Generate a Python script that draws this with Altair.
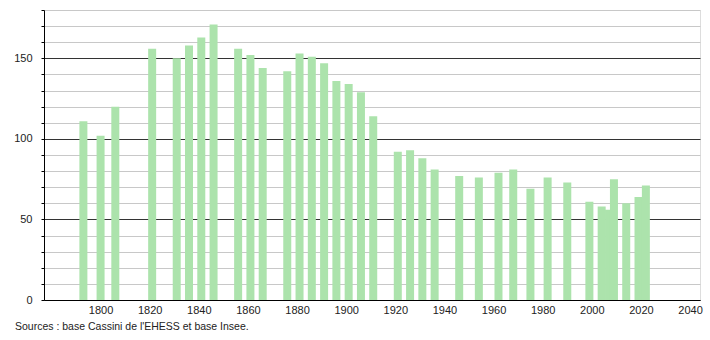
import altair as alt
import pandas as pd

years = [1793, 1800, 1806, 1821, 1831, 1836, 1841, 1846, 1856, 1861, 1866,
         1876, 1881, 1886, 1891, 1896, 1901, 1906, 1911, 1921, 1926, 1931,
         1936, 1946, 1954, 1962, 1968, 1975, 1982, 1990, 1999, 2004, 2007,
         2009, 2014, 2019, 2022]
population = [111, 102, 120, 156, 150, 158, 163, 171, 156, 152, 144,
              142, 153, 151, 147, 136, 134, 129, 114, 92, 93, 88,
              81, 77, 76, 79, 81, 69, 76, 73, 61, 58, 56,
              75, 60, 64, 71]
x_ticks = [1800, 1820, 1840, 1860, 1880, 1900, 1920, 1940, 1960, 1980, 2000, 2020, 2040]
y_ticks = list(range(0, 190, 10))
source_text = ["Sources : base Cassini de l'EHESS et base Insee."]

df = pd.DataFrame({"year": years, "pop": population})
src = pd.DataFrame({"t": source_text})

FONT = "Liberation Sans"

bars = alt.Chart(df).mark_bar(size=8, color="#ace3ac").encode(
    x=alt.X("year:Q",
            scale=alt.Scale(domain=[1779, 2042], nice=False, zero=False),
            axis=alt.Axis(values=x_ticks, format="d", title=None, grid=False,
                          ticks=False, labelPadding=4, labelFont=FONT,
                          labelFontSize=11, labelColor="#222",
                          domainColor="#000", domainWidth=1)),
    y=alt.Y("pop:Q",
            scale=alt.Scale(domain=[0, 180], nice=False),
            axis=alt.Axis(values=y_ticks, title=None, grid=True,
                          gridColor=alt.condition("datum.value % 50 === 0",
                                                  alt.value("#333333"),
                                                  alt.value("#c8c8c8")),
                          gridWidth=1,
                          labelExpr="datum.value % 50 === 0 ? datum.label : ''",
                          tickSize=3, tickColor="#000", labelPadding=9,
                          labelFont=FONT, labelFontSize=11, labelColor="#222",
                          domainColor="#000", domainWidth=1)),
)

note = alt.Chart(src).mark_text(align="left", baseline="middle", font=FONT,
                                fontSize=10.5, color="#222").encode(
    text="t:N",
    x=alt.value(-29),
    y=alt.value(317),
)

chart = alt.layer(bars, note).properties(
    width=656, height=290,
    autosize=alt.AutoSizeParams(type="none"),
    padding={"left": 44, "top": 10, "right": 10, "bottom": 40},
).configure_view(stroke=None).configure(background="white")

chart.save("out.html", embed_options={"renderer": "svg", "actions": False})
